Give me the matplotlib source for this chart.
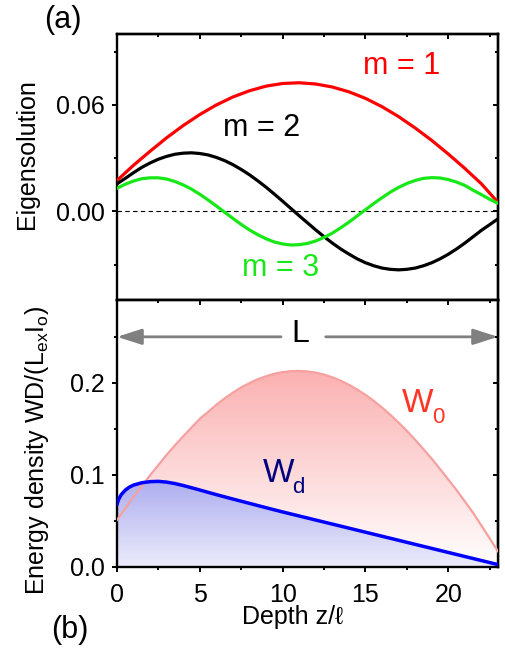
import numpy as np
import matplotlib
matplotlib.use('Agg')
import matplotlib.pyplot as plt
from matplotlib.colors import to_rgb

plt.rcParams['font.family'] = ['Liberation Sans', 'DejaVu Sans']
plt.rcParams['mathtext.fontset'] = 'custom'
plt.rcParams['mathtext.rm'] = 'Liberation Sans'
plt.rcParams['mathtext.it'] = 'Liberation Sans:italic'

# ---------------- data ----------------
z_int = [0, 1, 2, 3, 4, 5, 6, 7, 8, 9, 10, 11, 12, 13, 14, 15, 16, 17, 18, 19, 20, 21, 22, 23]
z_half = [0, 0.5, 1, 1.5, 2, 2.5, 3, 3.5, 4, 4.5, 5, 5.5, 6, 6.5, 7, 7.5, 8, 8.5, 9, 9.5,
          10, 10.5, 11, 11.5, 12, 12.5, 13, 13.5, 14, 14.5, 15, 15.5, 16, 16.5, 17, 17.5,
          18, 18.5, 19, 19.5, 20, 20.5, 21, 21.5, 22, 22.5, 23]

m1 = [0.0174, 0.0260, 0.0339, 0.0415, 0.0484, 0.0546, 0.0600, 0.0645, 0.0680, 0.0706,
      0.0721, 0.0725, 0.0718, 0.0701, 0.0674, 0.0637, 0.0590, 0.0534, 0.0470, 0.0400,
      0.0323, 0.0242, 0.0155, 0.0050]

m2 = [0.0155, 0.0186, 0.0218, 0.0248, 0.0273, 0.0294, 0.0310, 0.0322, 0.0328, 0.0330,
      0.0326, 0.0318, 0.0304, 0.0286, 0.0263, 0.0236, 0.0206, 0.0172, 0.0136, 0.0097,
      0.0057, 0.0016, -0.0025, -0.0065, -0.0105, -0.0143, -0.0179, -0.0212, -0.0241, -0.0268,
      -0.0290, -0.0307, -0.0320, -0.0327, -0.0330, -0.0327, -0.0320, -0.0307, -0.0290, -0.0268,
      -0.0242, -0.0212, -0.0179, -0.0143, -0.0107, -0.0075, -0.0042]

m3 = [0.0130, 0.0153, 0.0171, 0.0184, 0.0189, 0.0189, 0.0182, 0.0168, 0.0149, 0.0125,
      0.0096, 0.0064, 0.0030, -0.0005, -0.0040, -0.0074, -0.0105, -0.0132, -0.0155, -0.0173,
      -0.0184, -0.0190, -0.0188, -0.0181, -0.0167, -0.0147, -0.0123, -0.0093, -0.0061, -0.0026,
      0.0009, 0.0044, 0.0077, 0.0108, 0.0135, 0.0157, 0.0174, 0.0186, 0.0190, 0.0188,
      0.0179, 0.0165, 0.0146, 0.0119, 0.0094, 0.0068, 0.0045]

W0 = [0.0510, 0.0637, 0.0764, 0.0880, 0.0997, 0.1108, 0.1220, 0.1322, 0.1420, 0.1515,
      0.1610, 0.1685, 0.1762, 0.1832, 0.1894, 0.1951, 0.1998, 0.2040, 0.2072, 0.2099,
      0.2117, 0.2127, 0.2130, 0.2124, 0.2111, 0.2090, 0.2060, 0.2024, 0.1979, 0.1928,
      0.1870, 0.1804, 0.1732, 0.1653, 0.1568, 0.1478, 0.1382, 0.1280, 0.1176, 0.1065,
      0.0950, 0.0835, 0.0711, 0.0588, 0.0450, 0.0310, 0.0170]

z_d = [0, 0.1, 0.25, 0.5, 0.75, 1, 1.5, 2, 2.5, 3, 3.5, 4, 4.5, 5, 5.5, 6, 7, 8, 9, 10,
       11, 12, 13, 14, 15, 16, 17, 18, 19, 20, 21, 22, 23]
Wd = [0.068, 0.0735, 0.0785, 0.0835, 0.0868, 0.0890, 0.0915, 0.0927, 0.0930, 0.0922,
      0.0906, 0.0885, 0.0861, 0.0836, 0.0811, 0.0786, 0.0738, 0.0691, 0.0644, 0.0598,
      0.0554, 0.0510, 0.0466, 0.0422, 0.0378, 0.0334, 0.0290, 0.0246, 0.0202, 0.0158,
      0.0114, 0.0070, 0.0026]

# ---------------- figure ----------------
W, H = 505, 655
fig = plt.figure(figsize=(W / 100, H / 100), dpi=100)


def box(l, t, r, b):
    return [l / W, 1 - b / H, (r - l) / W, (b - t) / H]


ax1 = fig.add_axes(box(117, 34, 498, 300))
ax2 = fig.add_axes(box(117, 300, 498, 567))

TICK_FS = 18
SPINE_LW = 1.7


def style_axes(ax, show_bottom_ticks, ymaj, yminor, ylabels):
    for s in ax.spines.values():
        s.set_linewidth(SPINE_LW)
    ax.set_xlim(0, 23)
    ax.set_xticks([0, 5, 10, 15, 20])
    ax.set_xticks([2.5, 7.5, 12.5, 17.5, 22.5], minor=True)
    ax.set_yticks(ymaj)
    ax.set_yticklabels(ylabels)
    ax.set_yticks(yminor, minor=True)
    ax.tick_params(axis='both', which='major', direction='out', length=3.5, width=1.4,
                   labelsize=TICK_FS, pad=5)
    ax.tick_params(axis='both', which='minor', direction='out', length=2.2, width=1.4)
    ax.tick_params(axis='x', bottom=show_bottom_ticks, labelbottom=show_bottom_ticks,
                   which='both')
    if show_bottom_ticks:
        ax.tick_params(axis='x', which='major', pad=8)
    # inward ticks on top and right
    sx = ax.secondary_xaxis('top')
    sx.set_xticks([0, 5, 10, 15, 20])
    sx.set_xticks([2.5, 7.5, 12.5, 17.5, 22.5], minor=True)
    sx.tick_params(which='major', direction='in', length=3.5, width=1.4, labeltop=False)
    sx.tick_params(which='minor', direction='in', length=2.2, width=1.4)
    sx.spines['top'].set_linewidth(SPINE_LW)
    sy = ax.secondary_yaxis('right')
    sy.set_yticks(ymaj)
    sy.set_yticks(yminor, minor=True)
    sy.tick_params(which='major', direction='in', length=3.5, width=1.4, labelright=False)
    sy.tick_params(which='minor', direction='in', length=2.2, width=1.4)
    sy.spines['right'].set_linewidth(SPINE_LW)


# ---------- panel (a) ----------
ax1.axhline(0, color='black', lw=0.8, ls=(0, (4, 3)), zorder=1)
ax1.plot(z_int, m1, color='#ff0000', lw=2.3, zorder=3)
ax1.plot(z_half, m2, color='#000000', lw=2.3, zorder=3)
ax1.plot(z_half, m3, color='#18e818', lw=2.3, zorder=3)
ax1.set_ylim(-0.05, 0.1)
style_axes(ax1, False, [0.0, 0.06], [-0.03, 0.03, 0.09], ['0.00', '0.06'])

ax1.text(17.2, 0.0819, 'm = 1', color='#ff0000', fontsize=22, ha='center', va='center')
ax1.text(8.7, 0.0471, 'm = 2', color='#000000', fontsize=22, ha='center', va='center')
ax1.text(9.86, -0.032, 'm = 3', color='#18e818', fontsize=22, ha='center', va='center')

# ---------- panel (b) ----------
ax2.set_xlim(0, 23)
ax2.set_ylim(0, 0.29)


def gradient_fill(ax, x, y, c_bot, c_top, ytop, zorder):
    poly = ax.fill_between(x, 0, y, facecolor='none', edgecolor='none')
    path = poly.get_paths()[0]
    t = np.linspace(0, 1, 256)[:, None]
    cb = np.array(to_rgb(c_bot))
    ct = np.array(to_rgb(c_top))
    img = cb[None, :] * (1 - t) + ct[None, :] * t
    img = img[:, None, :]
    im = ax.imshow(img, extent=[0, 23, 0, ytop], origin='lower', aspect='auto',
                   zorder=zorder, interpolation='bilinear')
    im.set_clip_path(path, transform=ax.transData)


gradient_fill(ax2, z_half, W0, '#ffffff', '#fbb0b0', 0.215, 1)
gradient_fill(ax2, z_d, Wd, '#ececfb', '#aeaef0', 0.093, 2)
ax2.plot(z_half, W0, color='#f7a0a0', lw=1.6, zorder=3)
ax2.plot(z_d, Wd, color='#0000ff', lw=2.5, zorder=4)
ax2.set_xlim(0, 23)
ax2.set_ylim(0, 0.29)
style_axes(ax2, True, [0.0, 0.1, 0.2], [0.05, 0.15, 0.25], ['0.0', '0.1', '0.2'])

# L arrows
arrow_kw = dict(arrowstyle='-|>,head_length=1.0,head_width=0.32', color='#808080', lw=2,
                mutation_scale=15, shrinkA=0, shrinkB=0)
ax2.annotate('', xy=(0, 0.25), xytext=(9.9, 0.25), arrowprops=arrow_kw,
             annotation_clip=False, zorder=5)
ax2.annotate('', xy=(23, 0.25), xytext=(12.6, 0.25), arrowprops=arrow_kw,
             annotation_clip=False, zorder=5)
ax2.text(11.05, 0.253, 'L', fontsize=23, ha='center', va='center', color='black')

ax2.text(17.2, 0.168, 'W', color='#ff3526', fontsize=24, ha='left', va='baseline', zorder=6)
ax2.text(19.05, 0.1565, '0', color='#ff3526', fontsize=16, ha='left', va='baseline', zorder=6)
ax2.text(8.82, 0.0927, 'W', color='#00007f', fontsize=24, ha='left', va='baseline', zorder=6)
ax2.text(10.6, 0.0804, 'd', color='#00007f', fontsize=16, ha='left', va='baseline', zorder=6)

# labels
fig.text(27 / W, 1 - 154 / H, 'Eigensolution', rotation=90, fontsize=18,
         ha='center', va='center')
fig.text(37 / W, 1 - 450 / H, r'Energy density WD/(L$_{\rm ex}$I$_{\rm o}$)', rotation=90,
         fontsize=18, ha='center', va='center')
fig.text(293 / W, 1 - 617 / H, 'Depth z/ℓ', fontsize=18, ha='center', va='center')
fig.text(63 / W, 1 - 20 / H, '(a)', fontsize=22, ha='center', va='center')
fig.text(70 / W, 1 - 630 / H, '(b)', fontsize=22, ha='center', va='center')

fig.savefig('out.png', dpi=100)
